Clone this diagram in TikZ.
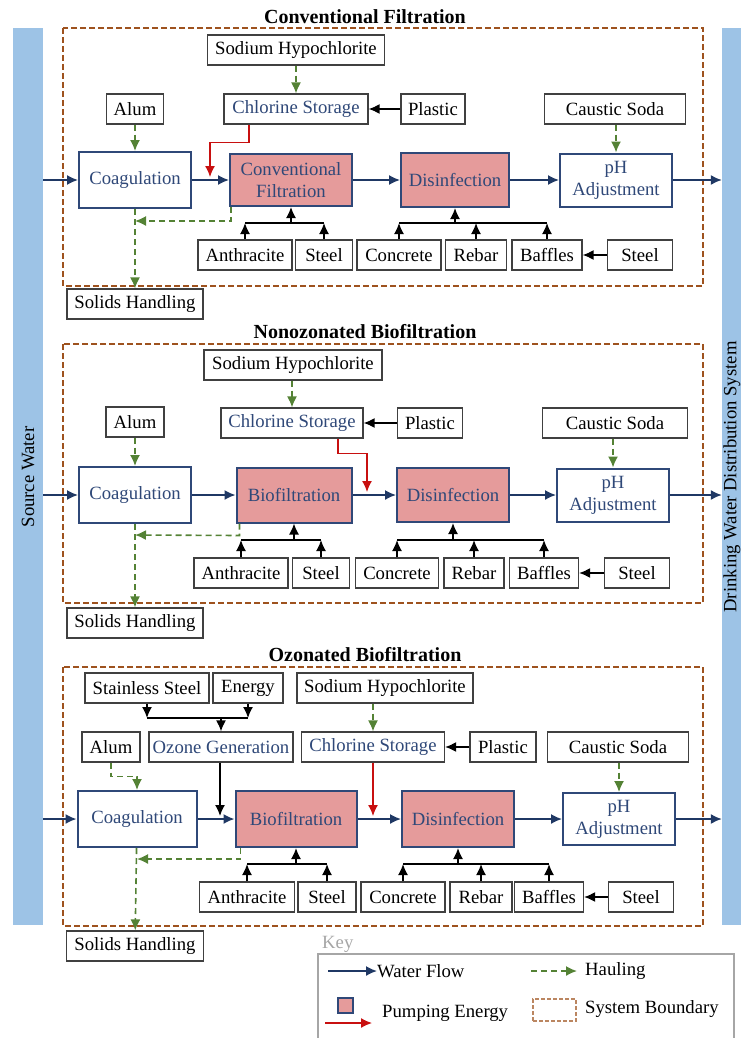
\documentclass[tikz,border=0pt]{standalone}
\usepackage{fontspec}
\setmainfont{Liberation Serif}
\usepackage{tikz}
\usetikzlibrary{arrows.meta}
\usepackage{xcolor}
\definecolor{procblue}{RGB}{47,72,120}
\definecolor{flowblue}{RGB}{31,56,100}
\definecolor{haulgreen}{RGB}{84,130,53}
\definecolor{pumppink}{RGB}{229,155,155}
\definecolor{pumpred}{RGB}{200,16,16}
\definecolor{boundbrown}{RGB}{158,82,30}
\definecolor{barblue}{RGB}{157,195,230}
\definecolor{matgray}{RGB}{64,64,64}
\definecolor{keygray}{RGB}{166,166,166}
\newcommand{\boxfont}{\fontsize{18.7}{22}\selectfont}

\tikzset{
  mat/.style={font=\boxfont, draw=matgray, line width=1.2pt, fill=white,
    minimum height=30, inner sep=0pt},
  store/.style={mat, text=procblue},
  proc/.style={font=\boxfont, draw=procblue, line width=2pt, fill=white,
    text=procblue, align=center, inner sep=0pt},
  pump/.style={proc, fill=pumppink},
  flow/.style={draw=flowblue, line width=1.6pt, -{Latex[length=11pt,width=10pt]}},
  haul/.style={draw=haulgreen, line width=1.6pt, dash pattern=on 6pt off 4pt,
    -{Latex[length=11pt,width=10pt]}},
  feed/.style={draw=black, line width=1.6pt, -{Latex[length=11pt,width=10pt]}},
  feedbar/.style={draw=black, line width=1.6pt},
  energy/.style={draw=pumpred, line width=1.3pt, -{Latex[length=11pt,width=10pt]}},
  bound/.style={draw=boundbrown, line width=1.8pt, dash pattern=on 6pt off 3pt},
  heading/.style={font=\bfseries\fontsize{20}{24}\selectfont},
  bar/.style={fill=barblue, draw=none, inner sep=0pt},
  keytext/.style={font=\boxfont, anchor=west, inner sep=0pt}
}

\begin{document}
\begin{tikzpicture}[x=1pt,y=-1pt]
\useasboundingbox (0,0) rectangle (741,1038);

% source and distribution
\node[bar, minimum width=30, minimum height=897] (src) at (28,476.5) {};
\node[font=\boxfont, rotate=90] (srcT) at (28,477) {Source Water};
\node[bar, minimum width=38, minimum height=897] (dist) at (741,476.5) {};
\node[font=\boxfont, rotate=90] (distT) at (732,477) {Drinking Water Distribution System};

% conventional filtration
\node[heading] (ttlA) at (365,17) {Conventional Filtration};
\draw[bound] (63,28) rectangle (703,286);
\node[mat, minimum width=177] (hypoA) at (296,50) {Sodium Hypochlorite};
\node[mat, minimum width=57] (alumA) at (135,109) {Alum};
\node[store, minimum width=144] (clA) at (296,109) {Chlorine Storage};
\node[mat, minimum width=64] (plasA) at (433,109) {Plastic};
\node[mat, minimum width=141] (causA) at (615,109) {Caustic Soda};
\node[proc, minimum width=112, minimum height=56] (coagA) at (135,180) {Coagulation};
\node[pump, minimum width=122, minimum height=52] (filtA) at (291,180) {Conventional\\Filtration};
\node[pump, minimum width=108, minimum height=54] (disA) at (455,180) {Disinfection};
\node[proc, minimum width=112, minimum height=53] (phA) at (616,180) {pH\\Adjustment};
\node[mat, minimum width=94] (anthA) at (245,255) {Anthracite};
\node[mat, minimum width=57] (stlA) at (324,255) {Steel};
\node[mat, minimum width=84] (concA) at (399,255) {Concrete};
\node[mat, minimum width=61] (rebA) at (476,255) {Rebar};
\node[mat, minimum width=70] (bafA) at (547,255) {Baffles};
\node[mat, minimum width=65] (stl2A) at (640,255) {Steel};
\node[mat, minimum width=136] (solA) at (135,304) {Solids Handling};
\coordinate (tA) at (0,223);
\coordinate (pumpA) at (210,177);

\draw[flow] (src.east |- coagA) -- (coagA);
\draw[flow] (coagA) -- (filtA);
\draw[flow] (filtA) -- (disA);
\draw[flow] (disA) -- (phA);
\draw[flow] (phA) -- (dist.west |- phA);
\draw[haul] (alumA) -- (coagA);
\draw[haul] (clA.north |- hypoA.south) -- (clA.north);
\draw[haul] (phA.north |- causA.south) -- (phA.north);
\draw[haul] ([xshift=2pt]filtA.south west) -- ++(0,14) -- ([yshift=-12pt]coagA.south);
\draw[haul] (coagA) -- (solA);
\draw[feed] (plasA) -- (clA);
\draw[feed] (stl2A) -- (bafA);
\draw[energy] ([xshift=-47pt]clA.south) -- ++(0,18) -| (pumpA);
\draw[feed] (anthA) -- (anthA.north |- tA);
\draw[feed] (stlA) -- (stlA.north |- tA);
\draw[feedbar] (anthA.north |- tA) -- (stlA.north |- tA);
\draw[feed] (filtA.south |- tA) -- (filtA.south);
\draw[feed] (concA) -- (concA.north |- tA);
\draw[feed] (rebA) -- (rebA.north |- tA);
\draw[feed] (bafA) -- (bafA.north |- tA);
\draw[feedbar] (concA.north |- tA) -- (bafA.north |- tA);
\draw[feed] (disA.south |- tA) -- (disA.south);

% nonozonated biofiltration
\node[heading] (ttlB) at (365,332) {Nonozonated Biofiltration};
\draw[bound] (63,344) rectangle (703,603);
\node[mat, minimum width=178] (hypoB) at (293,365) {Sodium Hypochlorite};
\node[mat, minimum width=58] (alumB) at (135,422) {Alum};
\node[store, minimum width=142] (clB) at (292,423) {Chlorine Storage};
\node[mat, minimum width=65] (plasB) at (430,423) {Plastic};
\node[mat, minimum width=145] (causB) at (615,423) {Caustic Soda};
\node[proc, minimum width=112, minimum height=56] (coagB) at (135,495) {Coagulation};
\node[pump, minimum width=115, minimum height=55] (bioB) at (294,495) {Biofiltration};
\node[pump, minimum width=112, minimum height=54] (disB) at (453,495) {Disinfection};
\node[proc, minimum width=112, minimum height=53] (phB) at (613,495) {pH\\Adjustment};
\node[mat, minimum width=94] (anthB) at (241,573) {Anthracite};
\node[mat, minimum width=57] (stlB) at (321,573) {Steel};
\node[mat, minimum width=83] (concB) at (397,573) {Concrete};
\node[mat, minimum width=60] (rebB) at (474,573) {Rebar};
\node[mat, minimum width=69] (bafB) at (544,573) {Baffles};
\node[mat, minimum width=65] (stl2B) at (637,573) {Steel};
\node[mat, minimum width=136] (solB) at (135,623) {Solids Handling};
\coordinate (tB) at (0,540);
\coordinate (pumpB) at (367,492);

\draw[flow] (src.east |- coagB) -- (coagB);
\draw[flow] (coagB) -- (bioB);
\draw[flow] (bioB) -- (disB);
\draw[flow] (disB) -- (phB);
\draw[flow] (phB) -- (dist.west |- phB);
\draw[haul] (alumB) -- (coagB);
\draw[haul] (clB.north |- hypoB.south) -- (clB.north);
\draw[haul] (phB.north |- causB.south) -- (phB.north);
\draw[haul] ([xshift=4pt]bioB.south west) -- ++(0,12) -- ([yshift=-11pt]coagB.south);
\draw[haul] (coagB) -- (solB);
\draw[feed] (plasB) -- (clB);
\draw[feed] (stl2B) -- (bafB);
\draw[energy] ([xshift=46pt]clB.south) -- ++(0,15) -| (pumpB);
\draw[feed] (anthB) -- (anthB.north |- tB);
\draw[feed] (stlB) -- (stlB.north |- tB);
\draw[feedbar] (anthB.north |- tB) -- (stlB.north |- tB);
\draw[feed] (bioB.south |- tB) -- (bioB.south);
\draw[feed] (concB) -- (concB.north |- tB);
\draw[feed] (rebB) -- (rebB.north |- tB);
\draw[feed] (bafB) -- (bafB.north |- tB);
\draw[feedbar] (concB.north |- tB) -- (bafB.north |- tB);
\draw[feed] (disB.south |- tB) -- (disB.south);

% ozonated biofiltration
\node[heading] (ttlC) at (365,655) {Ozonated Biofiltration};
\draw[bound] (63,667) rectangle (703,926);
\node[mat, minimum width=124] (ssC) at (147,688) {Stainless Steel};
\node[mat, minimum width=70] (enC) at (248,688) {Energy};
\node[mat, minimum width=176] (hypoC) at (385,688) {Sodium Hypochlorite};
\node[mat, minimum width=58] (alumC) at (111,747) {Alum};
\node[store, minimum width=144] (ozC) at (221,747) {Ozone Generation};
\node[store, minimum width=143] (clC) at (373,747) {Chlorine Storage};
\node[mat, minimum width=66] (plasC) at (503,747) {Plastic};
\node[mat, minimum width=141] (causC) at (618,747) {Caustic Soda};
\node[proc, minimum width=119, minimum height=56] (coagC) at (137,819) {Coagulation};
\node[pump, minimum width=121, minimum height=56] (bioC) at (296,819) {Biofiltration};
\node[pump, minimum width=112, minimum height=56] (disC) at (458,819) {Disinfection};
\node[proc, minimum width=112, minimum height=52] (phC) at (619,819) {pH\\Adjustment};
\node[mat, minimum width=95] (anthC) at (247,897) {Anthracite};
\node[mat, minimum width=58] (stlC) at (327,897) {Steel};
\node[mat, minimum width=84] (concC) at (403,897) {Concrete};
\node[mat, minimum width=62] (rebC) at (481,897) {Rebar};
\node[mat, minimum width=69] (bafC) at (549,897) {Baffles};
\node[mat, minimum width=65] (stl2C) at (641,897) {Steel};
\node[mat, minimum width=137] (solC) at (135,946) {Solids Handling};
\coordinate (oC) at (0,718);
\coordinate (tC) at (0,864);
\coordinate (pumpC) at (0,816);
\coordinate (ozinC) at (220,816);

\draw[flow] (src.east |- coagC) -- (coagC);
\draw[flow] (coagC) -- (bioC);
\draw[flow] (bioC) -- (disC);
\draw[flow] (disC) -- (phC);
\draw[flow] (phC) -- (dist.west |- phC);
\draw[haul] (alumC.south) -- ++(0,14) -| (coagC.north);
\draw[haul] (clC.north |- hypoC.south) -- (clC.north);
\draw[haul] (phC.north |- causC.south) -- (phC.north);
\draw[haul] ([xshift=6pt]bioC.south west) -- ++(0,11) -- ([yshift=-11pt]coagC.south);
\draw[haul] (coagC) -- (solC);
\draw[feed] (plasC) -- (clC);
\draw[feed] (stl2C) -- (bafC);
\draw[energy] (clC.south) -- (clC.south |- pumpC);
\draw[feed] (ssC) -- (ssC.south |- oC);
\draw[feed] (enC) -- (enC.south |- oC);
\draw[feedbar] (ssC.south |- oC) -- (enC.south |- oC);
\draw[feed] (ozC.north |- oC) -- (ozC.north);
\draw[feed] (ozC.south -| ozinC) -- (ozinC);
\draw[feed] (anthC) -- (anthC.north |- tC);
\draw[feed] (stlC) -- (stlC.north |- tC);
\draw[feedbar] (anthC.north |- tC) -- (stlC.north |- tC);
\draw[feed] (bioC.south |- tC) -- (bioC.south);
\draw[feed] (concC) -- (concC.north |- tC);
\draw[feed] (rebC) -- (rebC.north |- tC);
\draw[feed] (bafC) -- (bafC.north |- tC);
\draw[feedbar] (concC.north |- tC) -- (bafC.north |- tC);
\draw[feed] (disC.south |- tC) -- (disC.south);

% key
\node[keytext, text=keygray] (keyT) at (322,944) {Key};
\draw[draw=keygray, line width=1.5pt] (318,954) rectangle (734,1045);
\node[keytext] (wfT) at (377,971) {Water Flow};
\node[keytext] (haT) at (585,971) {Hauling};
\node[keytext] (peT) at (382,1013) {Pumping Energy};
\node[keytext] (sbT) at (585,1009) {System Boundary};
\node[pump, line width=1.2pt, minimum width=15, minimum height=15] (peK) at (345.5,1005.5) {};
\node[draw=boundbrown!70!white, line width=1.2pt, dash pattern=on 4pt off 2pt,
  minimum width=43, minimum height=22, inner sep=0pt] (sbK) at (554.5,1010) {};
\coordinate (wfK) at (328,971);
\coordinate (haK) at (531,971);
\coordinate (peA) at (325,1023);
\coordinate (peB) at (372,1023);
\draw[flow] (wfK) -- (wfT.west);
\draw[haul] (haK) -- ([xshift=-8pt]haT.west);
\draw[energy] (peA) -- (peB);
\end{tikzpicture}
\end{document}
